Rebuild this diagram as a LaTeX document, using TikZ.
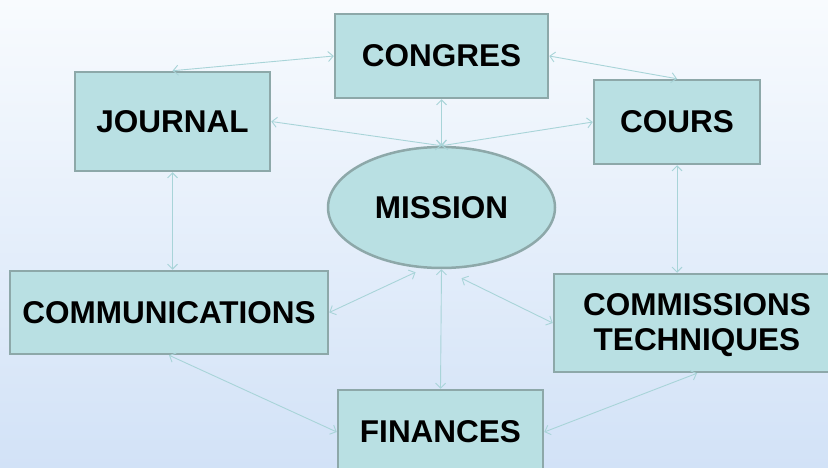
\documentclass[tikz,border=0pt]{standalone}
\usepackage{fontspec}
\setmainfont{Liberation Sans}
\usetikzlibrary{shapes.geometric,arrows.meta,calc}
\definecolor{boxfill}{HTML}{B9E0E3}
\definecolor{boxline}{HTML}{8DA8A9}
\definecolor{conn}{HTML}{A8D4D8}
\definecolor{bgtop}{HTML}{F8FBFE}
\definecolor{bgbot}{HTML}{D2E2F7}
\tikzset{
  box/.style={draw=boxline, line width=2.5pt, fill=boxfill, rectangle, inner sep=0pt,
    font=\fontsize{31.5}{35}\selectfont\bfseries, align=center},
  oval/.style={draw=boxline, line width=2.5pt, fill=boxfill, ellipse, inner sep=0pt,
    minimum width=227pt, minimum height=121pt,
    font=\fontsize{31.5}{38}\selectfont\bfseries},
  link/.style={draw=conn, line width=0.9pt,
    {Straight Barb[length=5pt,width=10pt]}-{Straight Barb[length=5pt,width=10pt]}}
}
\begin{document}
\begin{tikzpicture}[x=1pt,y=-1pt]
\useasboundingbox (0,0) rectangle (828,468);
\clip (0,0) rectangle (828,468);
\shade[top color=bgtop, bottom color=bgbot] (0,0) rectangle (828,468);

\node[box, minimum width=213pt, minimum height=84pt] (congres) at (441.5,56) {CONGRES};
\node[box, minimum width=195pt, minimum height=99pt] (journal) at (172.5,121.5) {JOURNAL};
\node[box, minimum width=166pt, minimum height=84pt] (cours) at (677,122) {COURS};
\node[oval] (mission) at (441.5,207.5) {MISSION};
\node[box, minimum width=318pt, minimum height=83pt] (commun) at (169,312.5) {COMMUNICATIONS};
\node[box, minimum width=286pt, minimum height=98pt] (commiss) at (697,323)
  {\raisebox{-3pt}[\height][\depth]{\begin{tabular}{@{}c@{}}COMMISSIONS\\TECHNIQUES\end{tabular}}};
\node[box, minimum width=205pt, minimum height=84pt] (finances) at (440.5,432) {FINANCES};

\coordinate (mA) at ($(mission.south)+(-26,3)$);
\coordinate (mB) at ($(mission.south)+(20,9)$);

\draw[link] (journal.north) -- (congres.west);
\draw[link] (congres.east) -- (cours.north);
\draw[link] (congres.south) -- (mission.north);
\draw[link] (journal.east) -- (mission.north);
\draw[link] (cours.west) -- (mission.north);
\draw[link] (journal.south) -- (journal.south |- commun.north);
\draw[link] (cours.south) -- (cours.south |- commiss.north);
\draw[link] (commun.east) -- (mA);
\draw[link] (commiss.west) -- (mB);
\draw[link] (mission.south) -- (finances.north);
\draw[link] (commun.south) -- (finances.west);
\draw[link] (commiss.south) -- (finances.east);
\end{tikzpicture}
\end{document}
